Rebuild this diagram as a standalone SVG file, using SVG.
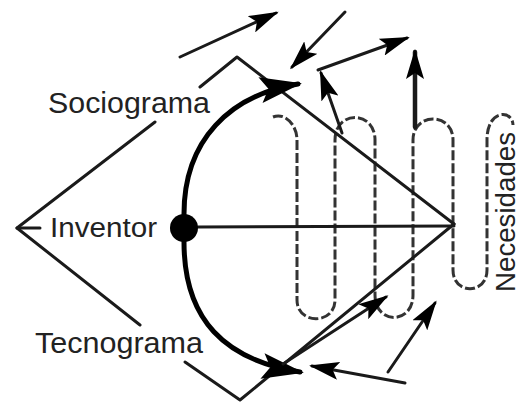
<svg xmlns="http://www.w3.org/2000/svg" width="521" height="405" viewBox="0 0 521 405">
  <defs>
    <style>
      .ln { fill: none; stroke: #1a1a1a; stroke-width: 3; stroke-linecap: round; stroke-linejoin: round; }
      .thick { fill: none; stroke: #000; stroke-width: 5; stroke-linecap: round; }
      .spiral { fill: none; stroke: #333; stroke-width: 3; stroke-dasharray: 10 3; }
      .lbl { font-family: "Liberation Sans", Arial, sans-serif; fill: #222; }
    </style>
    <marker id="big" viewBox="0 0 42 26" refX="38" refY="13" markerWidth="42" markerHeight="26" markerUnits="userSpaceOnUse" orient="auto">
      <path d="M0,0 L42,13 L0,26 L8,13 Z" fill="#000"/>
    </marker>
    <marker id="small" viewBox="0 0 30 18" refX="27" refY="9" markerWidth="30" markerHeight="18" markerUnits="userSpaceOnUse" orient="auto">
      <path d="M0,0 L30,9 L0,18 L6,9 Z" fill="#000"/>
    </marker>
  </defs>
  <rect width="521" height="405" fill="#fff"/>

  <g id="connectors">
    <path class="spiral" d="M273,117 C285,112 297,125 297,140 L297,300 C297,325 335,325 335,300 L335,140 C335,110 375,110 375,140 L375,295 C375,325 413,325 413,295 L413,140 C413,112 453,112 453,140 L453,270 C453,295 487,295 487,270 L487,140 C487,108 513,110 513,125"/>
    <polyline class="ln" points="155,122 17,228 140,325"/>
    <line class="ln" x1="17" y1="228" x2="40" y2="228"/>
    <polyline class="ln" points="200,87 237,57 454,224"/>
    <polyline class="ln" points="185,362 240,400 454,224"/>
    <line class="ln" x1="198" y1="227" x2="454" y2="226"/>
    <path class="thick" d="M184,214 C184,140 230,95 298,84" marker-end="url(#big)"/>
    <path class="thick" d="M184,242 C184,320 225,360 300,372" marker-end="url(#big)"/>
    <line class="ln" x1="180" y1="57" x2="276" y2="13" marker-end="url(#small)"/>
    <line class="ln" x1="345" y1="12" x2="292" y2="67" marker-end="url(#small)"/>
    <line class="ln" x1="342" y1="133" x2="321" y2="73" marker-end="url(#small)"/>
    <line class="ln" x1="318" y1="70" x2="407" y2="38" marker-end="url(#small)"/>
    <line class="ln" x1="415" y1="127" x2="415" y2="52" style="stroke-width:4.5" marker-end="url(#small)"/>
    <line class="ln" x1="283" y1="364" x2="386" y2="297" marker-end="url(#small)"/>
    <line class="ln" x1="388" y1="372" x2="435" y2="303" marker-end="url(#small)"/>
    <line class="ln" x1="405" y1="383" x2="312" y2="366" marker-end="url(#small)"/>
  </g>

  <g id="inventor">
    <circle cx="184" cy="228" r="14" fill="#000"/>
    <text class="lbl" x="50" y="237" font-size="27" textLength="107" lengthAdjust="spacingAndGlyphs">Inventor</text>
  </g>
  <g id="sociograma">
    <text class="lbl" x="48" y="113" font-size="29" textLength="162" lengthAdjust="spacingAndGlyphs">Sociograma</text>
  </g>
  <g id="tecnograma">
    <text class="lbl" x="35" y="353" font-size="29" textLength="168" lengthAdjust="spacingAndGlyphs">Tecnograma</text>
  </g>
  <g id="necesidades">
    <text class="lbl" transform="translate(515,292) rotate(-90)" font-size="27" textLength="160" lengthAdjust="spacingAndGlyphs">Necesidades</text>
  </g>
</svg>
